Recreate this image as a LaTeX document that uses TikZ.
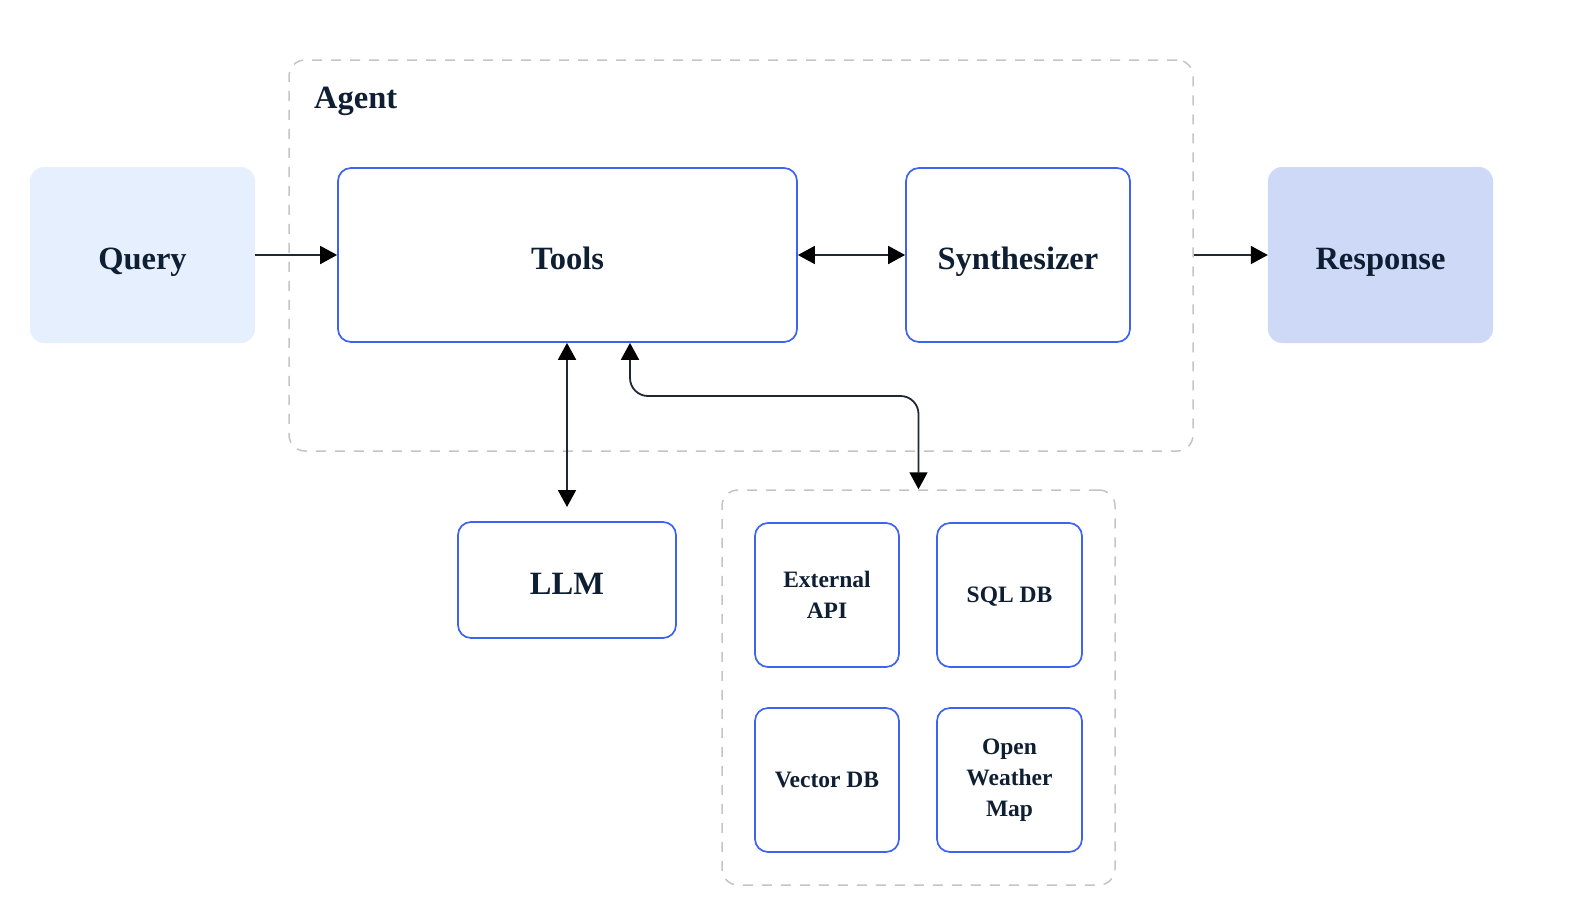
\documentclass[tikz,border=0pt]{standalone}
\usepackage{fontspec}
\setmainfont{Liberation Serif}
\usetikzlibrary{arrows.meta}
\definecolor{txt}{HTML}{0F1F33}
\definecolor{bl}{HTML}{3D63F0}
\definecolor{qfill}{HTML}{E6EFFD}
\definecolor{rfill}{HTML}{CED9F8}
\definecolor{dgray}{HTML}{C4C4C4}
\definecolor{conn}{HTML}{1E2733}
\tikzset{
  bigtxt/.style={font=\fontsize{32.5}{36}\selectfont\bfseries, text=txt, text height=29pt, text depth=0pt},
  smalltxt/.style={font=\fontsize{23.5}{31}\selectfont\bfseries, text=txt, align=center},
  io/.style={bigtxt, rounded corners=14pt, inner sep=0pt},
  bluebox/.style={draw=bl, line width=1.7pt, rounded corners=13pt, fill=white, inner sep=0pt},
  group/.style={draw=dgray, line width=1.5pt, dash pattern=on 10pt off 9pt, rounded corners=16pt, inner sep=0pt},
  tip/.style={},
  conn/.style={draw=conn, line width=1.8pt, -{Triangle[length=17pt,width=18pt,color=black]}},
  bconn/.style={draw=conn, line width=1.8pt, {Triangle[length=17pt,width=18pt,color=black]}-{Triangle[length=17pt,width=18pt,color=black]}},
}
\begin{document}
\begin{tikzpicture}[x=1pt,y=-1pt]
\useasboundingbox (0,0) rectangle (1570,908);
% groups
\node[group, minimum width=904pt, minimum height=391pt] (agent) at (741,255.5) {};
\node[font=\fontsize{32.5}{36}\selectfont\bfseries, text=txt, anchor=base west, inner sep=0pt] (agentlbl) at (314,108) {Agent};
\node[group, minimum width=393pt, minimum height=395pt] (tgroup) at (918.5,687.5) {};
% main boxes
\node[io, fill=qfill, minimum width=225pt, minimum height=176pt] (query) at (142.5,255) {Query};
\node[io, fill=rfill, minimum width=225pt, minimum height=176pt] (resp) at (1380.5,255) {Response};
\node[bluebox, bigtxt, minimum width=459pt, minimum height=174pt] (tools) at (567.5,255) {Tools};
\node[bluebox, bigtxt, minimum width=224pt, minimum height=174pt] (synth) at (1018,255) {Synthesizer};
\node[bluebox, bigtxt, minimum width=218pt, minimum height=116pt] (llm) at (567,580) {LLM};
% tool boxes
\node[bluebox, smalltxt, minimum width=144pt, minimum height=144pt] (ext) at (827,595) {External\\API};
\node[bluebox, smalltxt, minimum width=145pt, minimum height=144pt, text depth=0pt] (sql) at (1009.5,595) {SQL DB};
\node[bluebox, smalltxt, minimum width=144pt, minimum height=144pt, text depth=0pt] (vec) at (827,780) {Vector DB};
\node[bluebox, smalltxt, minimum width=145pt, minimum height=144pt] (owm) at (1009.5,780) {Open\\Weather\\Map};
% connectors
\draw[conn] (query.east) -- (tools.west);
\draw[bconn] (tools.east) -- (synth.west);
\draw[conn] (agent.east |- synth.east) -- (resp.west);
\coordinate (llmend) at (567,507);
\draw[bconn] (tools.south -| llmend) -- (llmend);
\coordinate (bendx) at (630,342);
\draw[bconn, rounded corners=18pt] (tools.south -| bendx) |- (918.5,396) -- (tgroup.north);
\end{tikzpicture}
\end{document}
